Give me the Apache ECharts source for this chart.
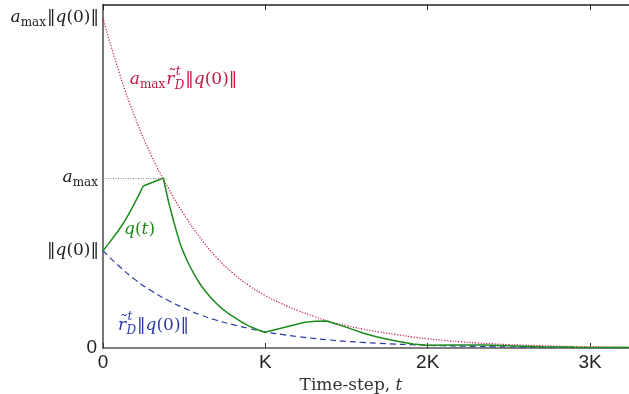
<!DOCTYPE html>
<html>
<head>
<meta charset="utf-8">
<script src="https://cdn.jsdelivr.net/npm/echarts@6/dist/echarts.min.js"></script>
<style>
  html, body { margin: 0; padding: 0; background: #fff; }
  #chart { width: 629px; height: 394px; }
</style>
</head>
<body>
<div id="chart"></div>
<script>
// x ticks (time-steps) and their labels
const xTicks = [0, 1000, 2000, 3000];
const xTickLabels = ['0', 'K', '2K', '3K'];

// y reference levels: 0, ||q(0)||, a_max, a_max||q(0)||  (units of ||q(0)||)
const yLevels = [0, 1.0, 1.747, 3.395];

// upper bound a_max r^t ||q(0)||  (red, dotted)
const boundT = [0, 100, 200, 300, 400, 500, 600, 700, 800, 900, 1000, 1100, 1200, 1300, 1400, 1500, 1600,
  1700, 1800, 1900, 2000, 2100, 2200, 2300, 2400, 2500, 2600, 2700, 2800, 2900, 3000, 3100, 3240];
const boundV = [3.39, 2.83, 2.36, 1.97, 1.65, 1.37, 1.13, 0.93, 0.77, 0.64, 0.54, 0.455, 0.385, 0.325, 0.27,
  0.23, 0.195, 0.165, 0.14, 0.115, 0.095, 0.078, 0.064, 0.052, 0.043, 0.035, 0.029, 0.024, 0.019, 0.015,
  0.012, 0.01, 0.008];

// r^t ||q(0)||  (blue, dashed)
const decayV = [1.0, 0.84, 0.70, 0.585, 0.49, 0.41, 0.34, 0.285, 0.24, 0.20, 0.165, 0.14, 0.117, 0.098,
  0.082, 0.068, 0.057, 0.048, 0.04, 0.034, 0.028, 0.023, 0.019, 0.016, 0.013, 0.011, 0.0095, 0.008,
  0.0065, 0.0055, 0.0045, 0.0038, 0.003];

// q(t) (green)
const qT = [0, 31, 63, 94, 125, 155, 186, 217, 248, 372, 382, 392, 407, 423, 437, 450, 462, 474, 494, 515,
  535, 556, 580, 605, 630, 658, 694, 730, 766, 802, 850, 900, 950, 997, 1243, 1310, 1377, 1440, 1520,
  1600, 1684, 1760, 1828, 1910, 1992, 2150, 2350, 2500, 2700, 2900, 3240];
const qV = [1.0, 1.065, 1.135, 1.205, 1.281, 1.365, 1.46, 1.56, 1.665, 1.747, 1.665, 1.59, 1.48, 1.38,
  1.29, 1.215, 1.145, 1.08, 0.99, 0.91, 0.84, 0.775, 0.705, 0.64, 0.585, 0.53, 0.465, 0.41, 0.362, 0.322,
  0.27, 0.225, 0.19, 0.161, 0.264, 0.274, 0.277, 0.245, 0.202, 0.155, 0.116, 0.088, 0.065, 0.042, 0.028,
  0.03, 0.032, 0.022, 0.012, 0.007, 0.004];

const SERIF = '"DejaVu Serif", serif';
const SANS = '"Liberation Sans", Arial, sans-serif';
const RED = '#c41640';
const GREEN = '#1a8c1a';
const BLUE = '#2a3aa6';

const chart = echarts.init(document.getElementById('chart'));

chart.setOption({
  animation: false,
  grid: { left: 103, right: 0, top: 5, bottom: 46, outerBoundsMode: 'none', containLabel: false },
  xAxis: [
    {
      type: 'value', min: 0, max: 3240, position: 'bottom',
      axisLine: { lineStyle: { color: '#555', width: 1.5 } },
      axisTick: { inside: true, length: 5, customValues: xTicks, lineStyle: { color: '#333' } },
      axisLabel: {
        customValues: xTicks, margin: 5, fontFamily: SANS, fontSize: 19, color: '#222',
        formatter: (v) => xTickLabels[xTicks.indexOf(v)] ?? ''
      },
      splitLine: { show: false },
      name: 'Time-step, {i|t}', nameLocation: 'middle', nameGap: 21,
      nameTextStyle: {
        fontFamily: SERIF, fontSize: 17, color: '#333', padding: [0, 30, 0, 0],
        rich: { i: { fontFamily: SERIF, fontStyle: 'italic', fontSize: 17, color: '#333' } }
      }
    },
    {
      type: 'value', min: 0, max: 3240, position: 'top',
      axisLine: { onZero: false, lineStyle: { color: '#222', width: 1.5 } },
      axisTick: { inside: true, length: 5, customValues: xTicks, lineStyle: { color: '#222' } },
      axisLabel: { show: false },
      splitLine: { show: false }
    }
  ],
  yAxis: {
    type: 'value', min: 0, max: 3.525,
    axisLine: { show: true, lineStyle: { color: '#777', width: 2 } },
    axisTick: { show: false },
    splitLine: { show: false },
    axisLabel: { customValues: [yLevels[0]], margin: 6, fontFamily: SANS, fontSize: 19, color: '#222' }
  },
  series: [
    {
      name: 'bound', type: 'line', smooth: true, showSymbol: false, silent: true,
      data: boundT.map((t, i) => [t, boundV[i]]),
      lineStyle: { color: RED, width: 1.2, type: [1.2, 1.6] }
    },
    {
      name: 'decay', type: 'line', smooth: true, showSymbol: false, silent: true,
      data: boundT.map((t, i) => [t, decayV[i]]),
      lineStyle: { color: BLUE, width: 1.2, type: [6, 4] }
    },
    {
      name: 'q', type: 'line', smooth: false, showSymbol: false, silent: true,
      data: qT.map((t, i) => [t, qV[i]]),
      lineStyle: { color: GREEN, width: 1.5 },
      markLine: {
        silent: true, symbol: 'none', label: { show: false },
        lineStyle: { color: '#888', type: [1, 1.5], width: 1 },
        data: [[{ coord: [0, yLevels[2]] }, { coord: [390, yLevels[2]] }]]
      }
    }
  ]
});

// small math typesetting out of text pieces
const measurer = document.createElement('canvas').getContext('2d');
function fontOf(p) {
  return (p.it ? 'italic ' : '') + (p.small ? 12 : 17) + 'px ' + SERIF;
}
function mathLabel(pieces, color, x, y, alignRight) {
  let cx = 0;
  let stackW = 0;
  const children = [];
  pieces.forEach((p) => {
    const font = fontOf(p);
    measurer.font = font;
    const w = measurer.measureText(p.s).width;
    children.push({
      type: 'text', x: cx + (p.dx || 0), y: p.dy || 0,
      style: { text: p.s, font: font, fill: color, align: 'left', verticalAlign: 'middle' }
    });
    if (p.stack) {
      stackW = w;
    } else {
      cx += Math.max(w, stackW) + (p.gap || 0);
      stackW = 0;
    }
  });
  return { type: 'group', x: alignRight ? x - cx : x, y: y, silent: true, children: children };
}

const AMAX = [{ s: 'a', it: 1 }, { s: 'max', small: 1, dy: 5, gap: 1 }];
const NORMQ0 = [{ s: '‖' }, { s: 'q', it: 1 }, { s: '(0)' }, { s: '‖' }];
const RTD = [
  { s: '˜', dx: 2, dy: -3, stack: 1 }, { s: 'r', it: 1 },
  { s: 't', it: 1, small: 1, dx: 1, dy: -8, stack: 1 }, { s: 'D', it: 1, small: 1, dy: 6, gap: 1 }
];
const QT = [{ s: 'q', it: 1 }, { s: '(' }, { s: 't', it: 1 }, { s: ')' }];

const px = (t, v) => chart.convertToPixel({ gridIndex: 0 }, [t, v]);
const axisX = px(0, 0)[0];
const redAt = px(165, 2.76);
const greenAt = px(130, 1.22);
const blueAt = px(92, 0.235);

chart.setOption({
  graphic: [
    mathLabel(AMAX.concat(NORMQ0), '#222', axisX - 4, px(0, yLevels[3])[1], true),
    mathLabel(AMAX, '#222', axisX - 4, px(0, yLevels[2])[1], true),
    mathLabel(NORMQ0, '#222', axisX - 4, px(0, yLevels[1])[1], true),
    mathLabel(AMAX.concat(RTD, NORMQ0), RED, redAt[0], redAt[1], false),
    mathLabel(QT, GREEN, greenAt[0], greenAt[1], false),
    mathLabel(RTD.concat(NORMQ0), BLUE, blueAt[0], blueAt[1], false)
  ]
});
</script>
</body>
</html>
